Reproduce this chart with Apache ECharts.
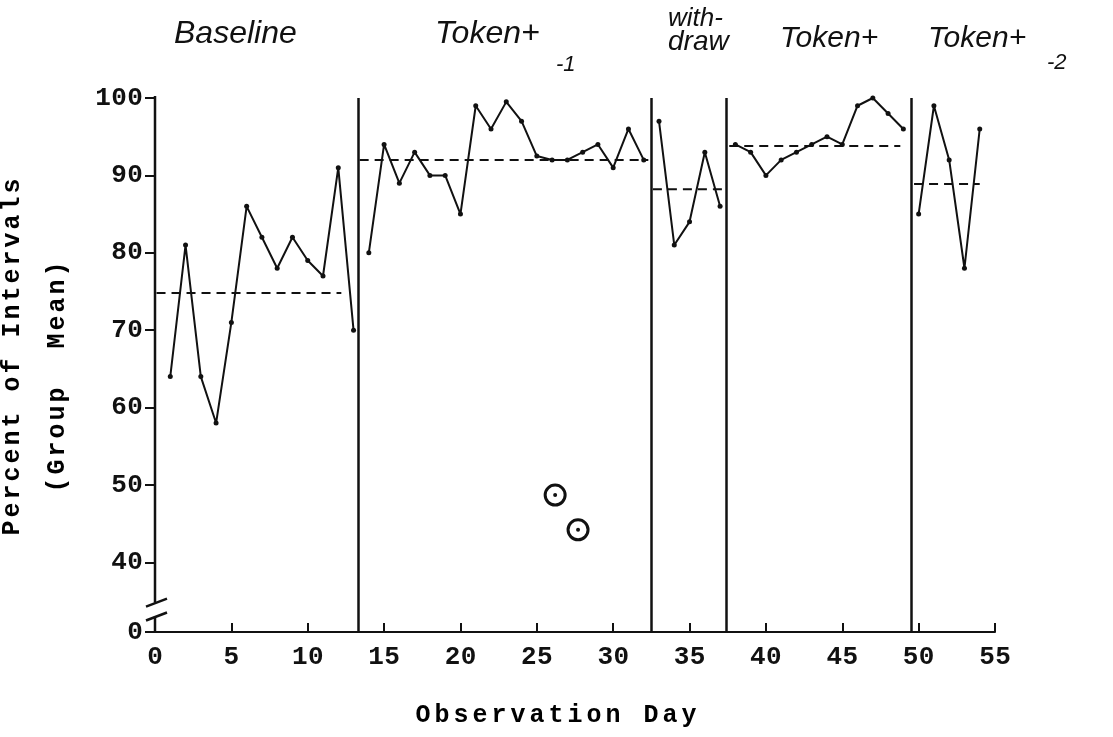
<!DOCTYPE html>
<html>
<head>
<meta charset="utf-8">
<script src="https://cdn.jsdelivr.net/npm/echarts@6/dist/echarts.min.js"></script>
<style>
  html, body { margin: 0; padding: 0; background: #fff; }
  #chart { width: 1113px; height: 737px; }
</style>
</head>
<body>
<div id="chart"></div>
<script>
// Percent of intervals (group mean) per observation day, one pair of arrays per phase
const baselineDays   = [1, 2, 3, 4, 5, 6, 7, 8, 9, 10, 11, 12, 13];
const baselineValues = [64, 81, 64, 58, 71, 86, 82, 78, 82, 79, 77, 91, 70];

const token1Days   = [14, 15, 16, 17, 18, 19, 20, 21, 22, 23, 24, 25, 26, 27, 28, 29, 30, 31, 32];
const token1Values = [80, 94, 89, 93, 90, 90, 85, 99, 96, 99.5, 97, 92.5, 92, 92, 93, 94, 91, 96, 92];

const withdrawDays   = [33, 34, 35, 36, 37];
const withdrawValues = [97, 81, 84, 93, 86];

const token2Days   = [38, 39, 40, 41, 42, 43, 44, 45, 46, 47, 48, 49];
const token2Values = [94, 93, 90, 92, 93, 94, 95, 94, 99, 100, 98, 96];

const token3Days   = [50, 51, 52, 53, 54];
const token3Values = [85, 99, 92, 78, 96];

// Phase means: first day, last day and mean value of each phase
const meanStarts = [0.1, 13.4, 32.6, 37.6, 49.7];
const meanEnds   = [12.2, 32.3, 37.3, 48.8, 54];
const meanValues = [74.8, 92, 88.2, 93.8, 88.9];

// Days at which the phase changes
const phaseBreaks = [13.3, 32.5, 37.4, 49.5];

// Circled readings
const circledDays   = [26.2, 27.7];
const circledValues = [48.7, 44.2];

// Axis ticks; the y axis is broken below 40, its "0" sits at yFloor
const yFloor = 31;
const yTickValues = [yFloor, 40, 50, 60, 70, 80, 90, 100];
const yTickLabels = ['0', '40', '50', '60', '70', '80', '90', '100'];
const xMin = 0, xMax = 55, xStep = 5;

const zip = (a, b) => a.map((v, i) => [v, b[i]]);

// typewriter-like text: every character in a fixed-width cell
const typed = (str) => str.split('').map(c => '{c|' + c + '}').join('');
const typeRich = (pitch, size) => ({
  c: { width: pitch, align: 'center', fontFamily: 'Liberation Mono', fontSize: size, fontWeight: 'bold', color: '#111' }
});

const phases = [
  [baselineDays, baselineValues],
  [token1Days, token1Values],
  [withdrawDays, withdrawValues],
  [token2Days, token2Values],
  [token3Days, token3Values]
];

const series = [];
phases.forEach(([d, v], i) => {
  series.push({
    type: 'line',
    data: zip(d, v),
    symbol: 'circle',
    symbolSize: 5,
    itemStyle: { color: '#111' },
    lineStyle: { color: '#111', width: 2 },
    z: 5,
    markLine: i === 0 ? {
      silent: true,
      symbol: 'none',
      label: { show: false },
      lineStyle: { color: '#111', width: 2.5, type: 'solid' },
      data: phaseBreaks.map(x => ({ xAxis: x }))
    } : undefined
  });
});
meanValues.forEach((m, i) => {
  series.push({
    type: 'line',
    data: [[meanStarts[i], m], [meanEnds[i], m]],
    symbol: 'none',
    lineStyle: { color: '#111', width: 2, type: [9, 6] },
    z: 4
  });
});
// ring around each circled reading, with a dot in its centre
series.push({
  type: 'scatter',
  data: zip(circledDays, circledValues),
  symbol: 'circle',
  symbolSize: 20,
  itemStyle: { color: 'rgba(255,255,255,0)', borderColor: '#111', borderWidth: 3, opacity: 1 },
  z: 6
});
series.push({
  type: 'scatter',
  data: zip(circledDays, circledValues),
  symbol: 'circle',
  symbolSize: 4,
  itemStyle: { color: '#111', opacity: 1 },
  z: 7
});

const chart = echarts.init(document.getElementById('chart'), null, { renderer: 'canvas' });

const handFont = { fontFamily: 'Liberation Sans', fontStyle: 'italic', fill: '#111' };

chart.setOption({
  animation: false,
  backgroundColor: '#fff',
  grid: { left: 155, right: 118, top: 98, bottom: 105, containLabel: false },
  xAxis: {
    type: 'value',
    min: xMin, max: xMax, interval: xStep,
    splitLine: { show: false },
    axisLine: { show: true, lineStyle: { color: '#111', width: 2 } },
    axisTick: { show: true, inside: true, length: 9, lineStyle: { color: '#111', width: 2 } },
    axisLabel: {
      margin: 12,
      formatter: (v) => typed(String(v)),
      rich: typeRich(16, 26)
    }
  },
  yAxis: {
    type: 'value',
    min: yFloor, max: 100,
    splitLine: { show: false },
    axisLine: { show: false },
    axisTick: {
      show: true, length: 10, customValues: yTickValues,
      lineStyle: { color: '#111', width: 2 }
    },
    axisLabel: {
      margin: 12,
      customValues: yTickValues,
      formatter: (v) => typed(yTickLabels[yTickValues.indexOf(v)] || String(v)),
      rich: typeRich(16, 26)
    }
  },
  series: series
});

// broken y axis line with the "//" mark between 0 and 40
const P = (x, y) => chart.convertToPixel({ gridIndex: 0 }, [x, y]);
const axisTopPx = P(0, 100), upperEndPx = P(0, 34.8), lowerStartPx = P(0, 33.0), axisBottomPx = P(0, yFloor);
const ax = axisTopPx[0];
const stroke = { stroke: '#111', lineWidth: 2.5 };

chart.setOption({
  graphic: [
    { type: 'line', shape: { x1: ax, y1: axisTopPx[1] - 2, x2: ax, y2: upperEndPx[1] }, style: stroke, z: 10 },
    { type: 'line', shape: { x1: ax, y1: lowerStartPx[1], x2: ax, y2: axisBottomPx[1] }, style: stroke, z: 10 },
    { type: 'line', shape: { x1: ax - 9, y1: upperEndPx[1] + 4, x2: ax + 12, y2: upperEndPx[1] - 4 }, style: stroke, z: 10 },
    { type: 'line', shape: { x1: ax - 9, y1: lowerStartPx[1] + 4, x2: ax + 12, y2: lowerStartPx[1] - 4 }, style: stroke, z: 10 },

    // phase titles
    { type: 'text', left: 174, top: 18, style: Object.assign({ text: 'Baseline', fontSize: 32 }, handFont) },
    { type: 'text', left: 435, top: 18, style: Object.assign({ text: 'Token+', fontSize: 32 }, handFont) },
    { type: 'text', left: 556, top: 54, style: Object.assign({ text: '-1', fontSize: 22 }, handFont) },
    { type: 'text', left: 668, top: 6, style: Object.assign({ text: 'with-', fontSize: 26 }, handFont) },
    { type: 'text', left: 668, top: 28, style: Object.assign({ text: 'draw', fontSize: 28 }, handFont) },
    { type: 'text', left: 780, top: 24, style: Object.assign({ text: 'Token+', fontSize: 30 }, handFont) },
    { type: 'text', left: 928, top: 24, style: Object.assign({ text: 'Token+', fontSize: 30 }, handFont) },
    { type: 'text', left: 1047, top: 52, style: Object.assign({ text: '-2', fontSize: 22 }, handFont) },

    // axis titles
    {
      type: 'text', x: 13, y: 357, rotation: Math.PI / 2,
      style: { text: typed('Percent of Intervals'), rich: typeRich(18, 25), align: 'center', verticalAlign: 'middle' }
    },
    {
      type: 'text', x: 58, y: 377, rotation: Math.PI / 2,
      style: { text: typed('(Group  Mean)'), rich: typeRich(18, 25), align: 'center', verticalAlign: 'middle' }
    },
    {
      type: 'text', x: 556, y: 716,
      style: { text: typed('Observation Day'), rich: typeRich(19, 25), align: 'center', verticalAlign: 'middle' }
    }
  ]
});
</script>
</body>
</html>
